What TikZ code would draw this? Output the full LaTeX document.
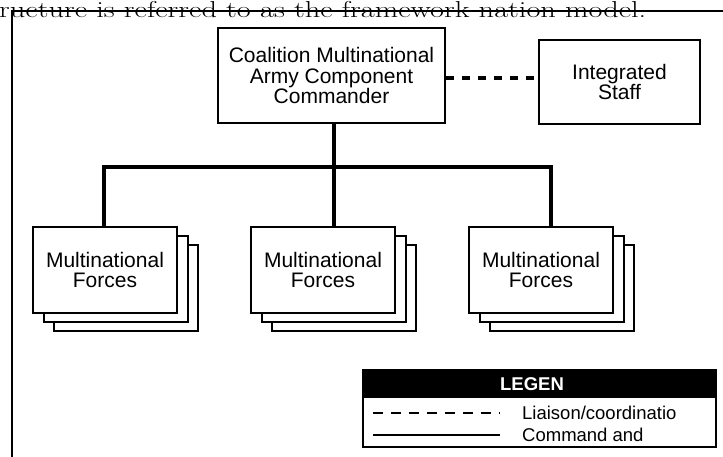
\documentclass[tikz,border=0pt]{standalone}
\usepackage{fontspec}
\setsansfont{Liberation Sans}
\usepackage{tikz}
\usetikzlibrary{arrows,shapes,positioning}

\begin{document}
\begin{tikzpicture}
	[x=1pt, y=-1pt,
	 unit/.style={rectangle, draw, line width=1.8pt, fill=white, align=center, inner sep=0pt,
	 	font=\sffamily\fontsize{21}{20.5}\selectfont},
	 force/.style={rectangle, draw, line width=1.5pt, fill=white, minimum width=144pt,
	 	minimum height=86pt, inner sep=0pt, align=center, font=\sffamily\fontsize{21}{20.5}\selectfont},
	 command/.style={line width=3.5pt},
	 liaison/.style={line width=4pt, dash pattern=on 8.5pt off 7.5pt},
	 legtext/.style={anchor=west, inner sep=0pt, font=\sffamily\fontsize{18.5}{18.5}\selectfont}]
	\useasboundingbox (0,0) rectangle (723,457);

	% page text and frame
	\node[anchor=base west, inner sep=0pt, font=\fontsize{23}{23}\selectfont] (caption) at (-1,17.5)
		{\scalebox{1.32}[1]{ructure is referred to as the framework nation model.}};
	\coordinate (corner) at (12,11);
	\draw[line width=1.5pt] (723,11) -- (corner) -- (12,457);

	% headquarters
	\node[unit, minimum width=227pt, minimum height=95pt] (cmdr) at (331.5,75.5)
		{Coalition Multinational\\Army Component\\Commander};
	\node[unit, minimum width=161pt, minimum height=84pt] (staff) at (619.5,82) {Integrated\\Staff};
	\coordinate (lsn) at (0,78);
	\draw[liaison] (cmdr.east |- lsn) -- (staff.west |- lsn);

	% forces
	\foreach \name/\cx in {f1/105, f2/323, f3/541} {
		\node[force] (\name c) at (\cx+21,288) {};
		\node[force] (\name b) at (\cx+11,279) {};
		\node[force] (\name) at (\cx,270) {Multinational\\Forces};
	}

	\coordinate (d1) at (104,167);
	\coordinate (d2) at (334,167);
	\coordinate (d3) at (551,167);
	\draw[command] (d1 |- f1.north) -- (d1) -- (d3) -- (d3 |- f3.north);
	\draw[command] (d2 |- cmdr.south) -- (d2) -- (d2 |- f2.north);

	% legend
	\node[draw, line width=1.2pt, fill=white, minimum width=353pt, minimum height=77pt, inner sep=0pt]
		(legend) at (539.5,408.5) {};
	\node[fill=black, minimum width=353pt, minimum height=28pt, inner sep=0pt, anchor=north]
		(leghead) at (legend.north) {};
	\node[text=white, inner sep=0pt, font=\sffamily\bfseries\fontsize{18.5}{18.5}\selectfont]
		(legtitle) at (532,384) {LEGEN};

	\coordinate (r1) at (373,413);
	\coordinate (r1e) at (500,413);
	\coordinate (r2) at (373,435);
	\coordinate (r2e) at (500,435);
	\draw[line width=2pt, dash pattern=on 10pt off 8pt] (r1) -- (r1e);
	\draw[line width=1.5pt] (r2) -- (r2e);
	\node[legtext] (liaisontext) at (522,413) {Liaison/coordinatio};
	\node[legtext] (commandtext) at (522,435) {Command and};
\end{tikzpicture}
\end{document}
